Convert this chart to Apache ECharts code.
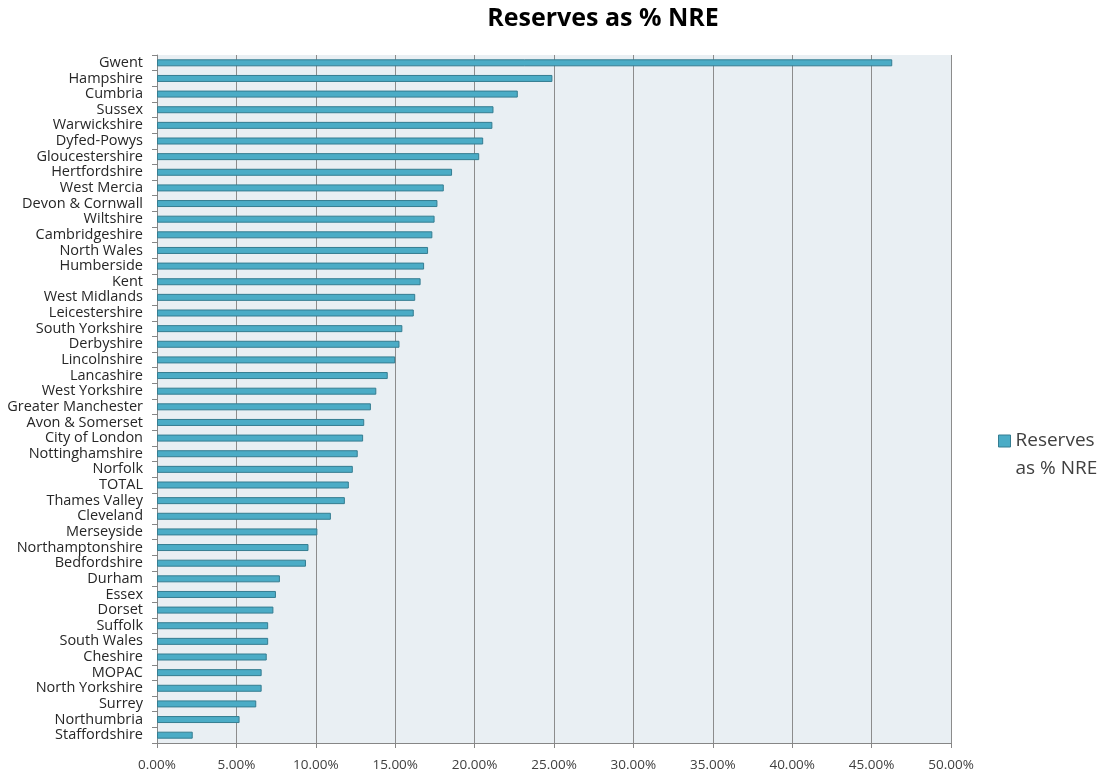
<!DOCTYPE html>
<html>
<head>
<meta charset="utf-8">
<script src="https://cdn.jsdelivr.net/npm/echarts@6/dist/echarts.min.js"></script>
<style>
  html, body { margin: 0; padding: 0; background: #fff; }
  #main { width: 1104px; height: 775px; }
</style>
</head>
<body>
<div id="main"></div>
<script>
// forces, top to bottom
var forces = ['Gwent', 'Hampshire', 'Cumbria', 'Sussex', 'Warwickshire', 'Dyfed-Powys',
  'Gloucestershire', 'Hertfordshire', 'West Mercia', 'Devon & Cornwall', 'Wiltshire',
  'Cambridgeshire', 'North Wales', 'Humberside', 'Kent', 'West Midlands', 'Leicestershire',
  'South Yorkshire', 'Derbyshire', 'Lincolnshire', 'Lancashire', 'West Yorkshire',
  'Greater Manchester', 'Avon & Somerset', 'City of London', 'Nottinghamshire', 'Norfolk',
  'TOTAL', 'Thames Valley', 'Cleveland', 'Merseyside', 'Northamptonshire', 'Bedfordshire',
  'Durham', 'Essex', 'Dorset', 'Suffolk', 'South Wales', 'Cheshire', 'MOPAC',
  'North Yorkshire', 'Surrey', 'Northumbria', 'Staffordshire'];

// reserves as % of net revenue expenditure
var reserves = [46.3, 24.9, 22.72, 21.19, 21.12, 20.54,
  20.29, 18.58, 18.06, 17.66, 17.48,
  17.34, 17.07, 16.82, 16.6, 16.26, 16.17,
  15.45, 15.27, 15.0, 14.53, 13.81,
  13.47, 13.05, 12.98, 12.64, 12.33,
  12.08, 11.83, 10.95, 10.1, 9.54, 9.38,
  7.74, 7.49, 7.33, 7.0, 7.0, 6.91, 6.59,
  6.59, 6.25, 5.2, 2.25];

var seriesName = 'Reserves as % NRE';

var myChart = echarts.init(document.getElementById('main'));

var font = 'Open Sans, sans-serif';

var option = {
  backgroundColor: '#fff',
  title: {
    text: 'Reserves as % NRE',
    left: 598,
    top: 1,
    textAlign: 'center',
    textStyle: { fontFamily: font, fontSize: 25, fontWeight: 'bold', color: '#000' }
  },
  legend: {
    data: [seriesName],
    orient: 'vertical',
    left: 993,
    top: 394,
    icon: 'rect',
    itemWidth: 12,
    itemHeight: 12,
    itemGap: 6,
    itemStyle: { borderColor: '#357d91', borderWidth: 1 },
    // blank first line keeps the marker level with "Reserves"
    formatter: function () { return ' \nReserves\nas % NRE'; },
    textStyle: { fontFamily: font, fontSize: 19, color: '#404040', lineHeight: 28 }
  },
  grid: {
    left: 157, right: 153, top: 55, bottom: 32,
    show: true, backgroundColor: '#e9eff3', borderWidth: 0
  },
  xAxis: {
    type: 'value',
    min: 0, max: 50, interval: 5,
    axisLine: { show: true, lineStyle: { color: '#868686' } },
    axisTick: { show: true, length: 5, lineStyle: { color: '#868686' } },
    splitLine: { show: true, lineStyle: { color: '#8c8c8c', width: 1 } },
    axisLabel: {
      fontFamily: font, fontSize: 13.5, color: '#404040', margin: 15,
      formatter: function (v) { return v.toFixed(2) + '%'; }
    }
  },
  yAxis: {
    type: 'category',
    data: forces,
    inverse: true,
    axisLine: { show: true, lineStyle: { color: '#868686' } },
    axisTick: { show: true, length: 5, lineStyle: { color: '#868686' } },
    axisLabel: {
      interval: 0, fontFamily: font, fontSize: 14.5, color: '#262626', margin: 14
    }
  },
  series: [{
    name: seriesName,
    type: 'bar',
    data: reserves,
    barWidth: 7,
    itemStyle: { color: '#4bacc6', borderColor: '#357d91', borderWidth: 1 }
  }]
};

myChart.setOption(option);
</script>
</body>
</html>
